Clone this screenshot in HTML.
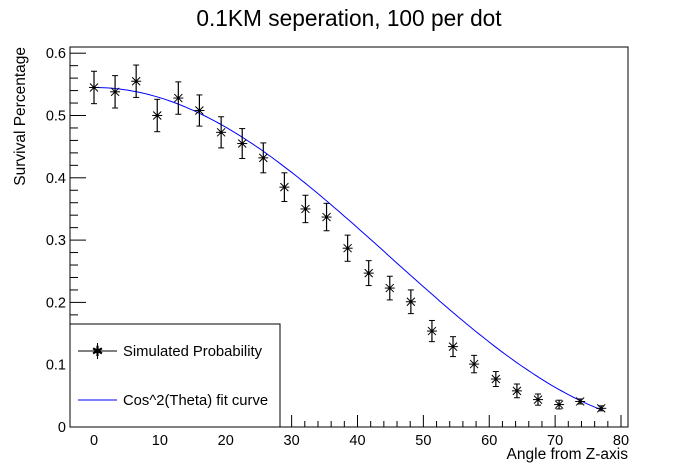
<!DOCTYPE html>
<html><head><meta charset="utf-8"><style>
body{margin:0;background:#fff;}
svg{display:block;font-family:"Liberation Sans",sans-serif;}
</style></head><body>
<svg id="chart" width="698" height="476" viewBox="0 0 698 476" xmlns="http://www.w3.org/2000/svg">
<text x="349" y="26" font-size="22.7" text-anchor="middle">0.1KM seperation, 100 per dot</text>
<rect x="70" y="47" width="558" height="380" fill="none" stroke="#000" stroke-width="1"/>
<g id="axes"></g>
<g id="fit"></g>
<g id="points"></g>
<text transform="translate(25,47) rotate(-90)" font-size="15.5" text-anchor="end">Survival Percentage</text>
<text x="628" y="459" font-size="15.5" text-anchor="end">Angle from Z-axis</text>
<g>
<rect x="70" y="324" width="210" height="103" fill="#fff" stroke="#000"/>
<line x1="78" y1="351" x2="117" y2="351" stroke="#000"/>
<line x1="97.5" y1="343" x2="97.5" y2="359" stroke="#000"/>
<text x="97.5" y="356" font-size="14" text-anchor="middle">✱</text>
<text x="123" y="356" font-size="14.8">Simulated Probability</text>
<line x1="78" y1="400" x2="117" y2="400" stroke="#0000ff"/>
<text x="123" y="405" font-size="14.8">Cos^2(Theta) fit curve</text>
</g>
</svg>
<script>
const angles=[0,3.2,6.4,9.6,12.8,16.0,19.3,22.5,25.7,28.9,32.1,35.3,38.5,41.7,44.9,48.1,51.3,54.5,57.7,61.0,64.2,67.4,70.6,73.8,77.0];
const survival=[0.545,0.538,0.555,0.500,0.528,0.508,0.473,0.455,0.432,0.385,0.350,0.337,0.287,0.247,0.223,0.201,0.154,0.129,0.101,0.077,0.058,0.044,0.036,0.041,0.030];
const errors=[0.026,0.026,0.026,0.026,0.026,0.025,0.025,0.024,0.024,0.023,0.022,0.022,0.021,0.020,0.019,0.019,0.017,0.016,0.014,0.012,0.011,0.009,0.007,0.004,0.004];
const fitAmp=0.545;
const xTicks=[0,10,20,30,40,50,60,70,80];
const yTicks=[0,0.1,0.2,0.3,0.4,0.5,0.6];
const NS="http://www.w3.org/2000/svg";
const X=v=>94+v*6.5875, Y=v=>427-v*623;
function mk(tag,attrs,parent){const e=document.createElementNS(NS,tag);for(const k in attrs)e.setAttribute(k,attrs[k]);parent.appendChild(e);return e;}
const ax=document.getElementById('axes');
for(let v=-2;v<=80;v+=2){const maj=v%10===0;mk('line',{x1:X(v),x2:X(v),y1:427,y2:427-(maj?12:6),stroke:'#000'},ax);}
xTicks.forEach(v=>{const t=mk('text',{x:X(v),y:445,'font-size':14.5,'text-anchor':'middle'},ax);t.textContent=v;

});
for(let i=0;i<=30;i++){const v=i*0.02;const maj=i%5===0;mk('line',{x1:70,x2:70+(maj?16:8),y1:Y(v),y2:Y(v),stroke:'#000'},ax);}
yTicks.forEach(v=>{const t=mk('text',{x:66,y:Y(v)+5,'font-size':14.5,'text-anchor':'end'},ax);t.textContent=v===0?'0':v.toFixed(1);

});
let d='';for(let a=0;a<=77;a+=0.5){const r=a*Math.PI/180;d+=(a?'L':'M')+X(a).toFixed(1)+','+Y(fitAmp*Math.cos(r)**2).toFixed(1);}
const fp=mk('path',{d:d,fill:'none',stroke:'#0000ff','stroke-width':1},document.getElementById('fit'));


const pg=document.getElementById('points');
angles.forEach((a,i)=>{const g=mk('g',{},pg);


const x=X(a),y=Y(survival[i]),e=errors[i]*623;
mk('line',{x1:x,x2:x,y1:y-e,y2:y+e,stroke:'#000','stroke-width':1.2},g);
mk('line',{x1:x-3,x2:x+3,y1:y-e,y2:y-e,stroke:'#000'},g);
mk('line',{x1:x-3,x2:x+3,y1:y+e,y2:y+e,stroke:'#000'},g);
mk('line',{x1:x-5,x2:x+5,y1:y,y2:y,stroke:'#000'},g);
mk('line',{x1:x-4,x2:x+4,y1:y-4,y2:y+4,stroke:'#000'},g);
mk('line',{x1:x-4,x2:x+4,y1:y+4,y2:y-4,stroke:'#000'},g);
mk('circle',{cx:x,cy:y,r:1.5,fill:'#000'},g);});
</script>
</body></html>
